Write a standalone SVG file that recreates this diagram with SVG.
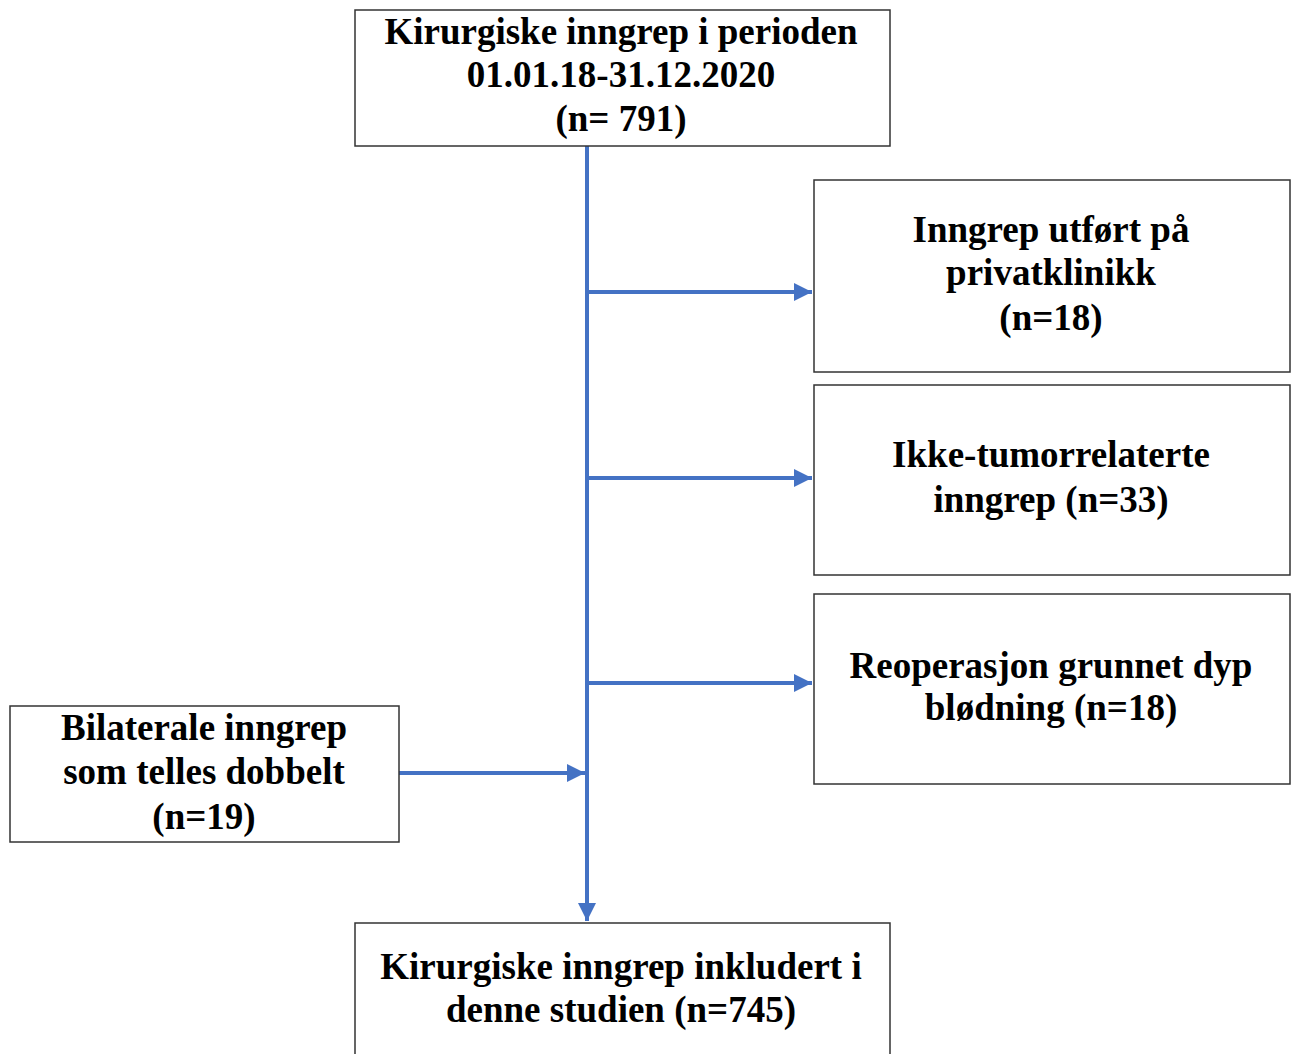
<svg xmlns="http://www.w3.org/2000/svg" width="1292" height="1054" viewBox="0 0 1292 1054">
<style>
.box{fill:#fff;stroke:#333;stroke-width:1.5}
.t{font-family:"Liberation Serif","Times New Roman",serif;font-weight:bold;font-size:37px;fill:#000;text-anchor:middle}
.c{fill:none;stroke:#4472C4;stroke-width:4}
</style>
<defs>
<marker id="ah" viewBox="0 0 10 10" refX="10" refY="5" markerWidth="4.5" markerHeight="5" markerUnits="strokeWidth" orient="auto">
<path d="M0,0 L10,5 L0,10 z" fill="#4472C4"/>
</marker>
</defs>
<rect width="1292" height="1054" fill="#fff"/>
<g id="connectors">
<path class="c" d="M587,146 V921" marker-end="url(#ah)"/>
<path class="c" d="M587,292 H812" marker-end="url(#ah)"/>
<path class="c" d="M587,478 H812" marker-end="url(#ah)"/>
<path class="c" d="M587,683 H812" marker-end="url(#ah)"/>
<path class="c" d="M399,773 H585" marker-end="url(#ah)"/>
</g>
<g id="start">
<rect class="box" x="355" y="10" width="535" height="136"/>
<text class="t" x="621" y="44">Kirurgiske inngrep i perioden</text>
<text class="t" x="621" y="87">01.01.18-31.12.2020</text>
<text class="t" x="621" y="131">(n= 791)</text>
</g>
<g id="privat">
<rect class="box" x="814" y="180" width="476" height="192"/>
<text class="t" x="1051" y="242">Inngrep utført på</text>
<text class="t" x="1051" y="285">privatklinikk</text>
<text class="t" x="1051" y="330">(n=18)</text>
</g>
<g id="ikke">
<rect class="box" x="814" y="385" width="476" height="190"/>
<text class="t" x="1051" y="467">Ikke-tumorrelaterte</text>
<text class="t" x="1051" y="512">inngrep (n=33)</text>
</g>
<g id="reop">
<rect class="box" x="814" y="594" width="476" height="190"/>
<text class="t" x="1051" y="678">Reoperasjon grunnet dyp</text>
<text class="t" x="1051" y="720">blødning (n=18)</text>
</g>
<g id="bilat">
<rect class="box" x="10" y="706" width="389" height="136"/>
<text class="t" x="204" y="740">Bilaterale inngrep</text>
<text class="t" x="204" y="784">som telles dobbelt</text>
<text class="t" x="204" y="829">(n=19)</text>
</g>
<g id="end">
<rect class="box" x="355" y="923" width="535" height="140"/>
<text class="t" x="621" y="979">Kirurgiske inngrep inkludert i</text>
<text class="t" x="621" y="1022">denne studien (n=745)</text>
</g>
</svg>
